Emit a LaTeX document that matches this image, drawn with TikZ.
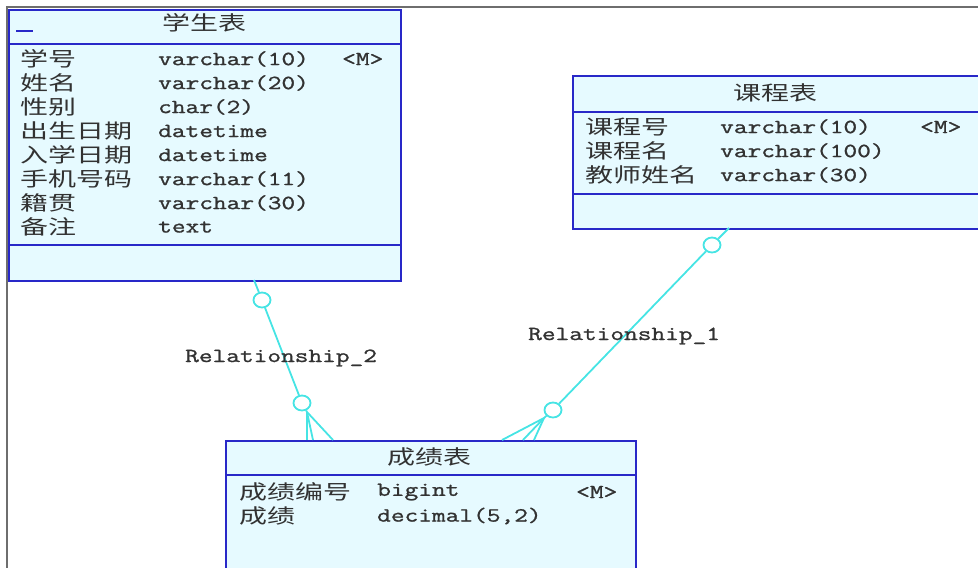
\documentclass[tikz,border=0pt]{standalone}
\usepackage{fontspec}
\usepackage{xcolor}
\usetikzlibrary{shapes.geometric}
\newfontfamily\zhfont[FakeStretch=1.4]{Noto Sans CJK SC}
\setmonofont[FakeStretch=1.33, FakeBold=1.2]{Latin Modern Mono}
\definecolor{tblblue}{RGB}{40,40,200}
\definecolor{tblfill}{RGB}{230,250,255}
\definecolor{relcyan}{RGB}{70,228,228}
\definecolor{framegray}{RGB}{110,110,110}
\definecolor{txtgray}{RGB}{50,50,50}

\begin{document}
\begin{tikzpicture}[x=1pt, y=-1pt,
  tbl/.style={draw=tblblue, fill=tblfill, line width=2.2pt, inner sep=0pt, anchor=north west},
  div/.style={draw=tblblue, line width=2.2pt},
  zh/.style={anchor=west, inner sep=0pt, text=txtgray, font=\zhfont\fontsize{20}{20}\selectfont},
  tt/.style={anchor=west, inner sep=0pt, text=txtgray, font=\ttfamily\fontsize{20}{20}\selectfont},
  ring/.style={draw=relcyan, fill=white, ellipse, minimum width=17pt, minimum height=15pt, inner sep=0pt, line width=1.8pt},
  rel/.style={draw=relcyan, line width=1.8pt}]
\useasboundingbox (0,0) rectangle (978,568);
\clip (0,0) rectangle (978,568);
\draw[framegray, line width=1.8pt] (7,575) -- (7,7) -- (990,7);
\node[tbl, minimum width=392pt, minimum height=271pt] (stu) at (8,9) {};
\node[tbl, minimum width=420pt, minimum height=153pt] (crs) at (572,75) {};
\node[tbl, minimum width=410pt, minimum height=150pt] (scr) at (225,440) {};
\draw[div] ([yshift=-35pt]stu.north west) -- ([yshift=-35pt]stu.north east);
\draw[div] ([yshift=37pt]stu.south west) -- ([yshift=37pt]stu.south east);
\draw[div] ([yshift=-37pt]crs.north west) -- ([yshift=-37pt]crs.north east);
\draw[div] ([yshift=36pt]crs.south west) -- ([yshift=36pt]crs.south east);
\draw[div] ([yshift=-35pt]scr.north west) -- ([yshift=-35pt]scr.north east);
\draw[tblblue, line width=2.5pt] (16,31) -- (33,31);
\node[zh, anchor=center] (stuh) at (204,23) {学生表};
\node[zh] (s1) at (20,59) {学号};
\node[tt] (s1t) at (158,59) {varchar(10)};
\node[tt] (s1k) at (342,59) {<M>};
\node[zh] (s2) at (20,83) {姓名};
\node[tt] (s2t) at (158,83) {varchar(20)};
\node[zh] (s3) at (20,107) {性别};
\node[tt] (s3t) at (158,107) {char(2)};
\node[zh] (s4) at (20,131) {出生日期};
\node[tt] (s4t) at (158,131) {datetime};
\node[zh] (s5) at (20,155) {入学日期};
\node[tt] (s5t) at (158,155) {datetime};
\node[zh] (s6) at (20,179) {手机号码};
\node[tt] (s6t) at (158,179) {varchar(11)};
\node[zh] (s7) at (20,203) {籍贯};
\node[tt] (s7t) at (158,203) {varchar(30)};
\node[zh] (s8) at (20,227) {备注};
\node[tt] (s8t) at (158,227) {text};
\node[zh, anchor=center] (crsh) at (775,93) {课程表};
\node[zh] (c1) at (585,127) {课程号};
\node[tt] (c1t) at (720,127) {varchar(10)};
\node[tt] (c1k) at (920,127) {<M>};
\node[zh] (c2) at (585,151) {课程名};
\node[tt] (c2t) at (720,151) {varchar(100)};
\node[zh] (c3) at (585,175) {教师姓名};
\node[tt] (c3t) at (720,175) {varchar(30)};
\node[zh, anchor=center] (scrh) at (429,457) {成绩表};
\node[zh] (g1) at (239,492) {成绩编号};
\node[tt] (g1t) at (377,492) {bigint};
\node[tt] (g1k) at (576,492) {<M>};
\node[zh] (g2) at (239,516) {成绩};
\node[tt] (g2t) at (377,516) {decimal(5,2)};
\coordinate (r2s) at (254,280);
\node[ring] (r2a) at (262,300) {};
\node[ring] (r2b) at (302,403) {};
\coordinate (r2f) at (307,412);
\coordinate (r2k1) at (307,440);
\coordinate (r2k2) at (313,440);
\coordinate (r2k3) at (333,440);
\draw[rel] (r2s) -- (r2a) -- (r2b) -- (r2f);
\draw[rel] (r2f) -- (r2k1);
\draw[rel] (r2f) -- (r2k2);
\draw[rel] (r2f) -- (r2k3);
\node[tt] (r2l) at (185,358) {Relationship\_2};
\coordinate (r1s) at (729,228);
\node[ring] (r1a) at (712,245) {};
\node[ring] (r1b) at (553,410) {};
\coordinate (r1f) at (544,418);
\coordinate (r1k1) at (502,440);
\coordinate (r1k2) at (523,440);
\coordinate (r1k3) at (534,440);
\draw[rel] (r1s) -- (r1a) -- (r1b) -- (r1f);
\draw[rel] (r1f) -- (r1k1);
\draw[rel] (r1f) -- (r1k2);
\draw[rel] (r1f) -- (r1k3);
\node[tt] (r1l) at (528,336) {Relationship\_1};
\end{tikzpicture}
\end{document}
